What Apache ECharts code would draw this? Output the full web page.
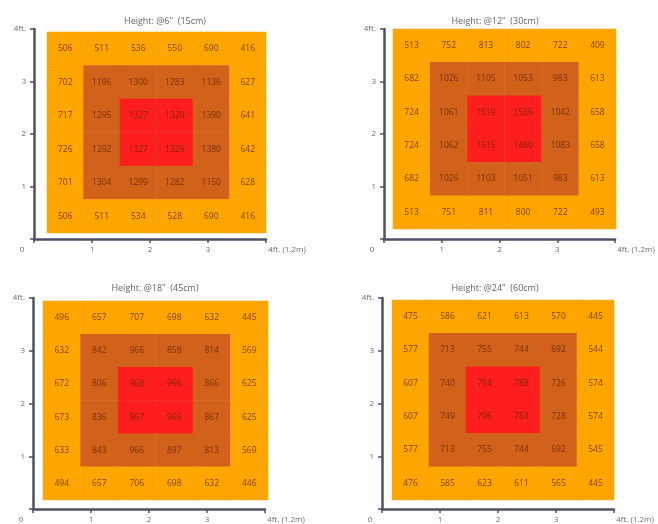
<!DOCTYPE html>
<html><head><meta charset="utf-8">
<script src="https://cdn.jsdelivr.net/npm/echarts@6/dist/echarts.min.js"></script>
<style>html,body{margin:0;padding:0;background:#fff}#c{width:658px;height:524px}</style>
</head><body><div id="c"></div>
<script>
var titles = ['Height: @6"  (15cm)', 'Height: @12"  (30cm)', 'Height: @18"  (45cm)', 'Height: @24"  (60cm)'];
var axisTicks = [0, 1, 2, 3, 4];
var xEndLabel = '4ft. (1.2m)';
var yEndLabel = '4ft.';
// rows listed top to bottom, 6 columns left to right
var panel6 = [
  [506, 511, 536, 550, 690, 416],
  [702, 1196, 1300, 1283, 1136, 627],
  [717, 1295, 1327, 1320, 1390, 641],
  [726, 1292, 1327, 1326, 1380, 642],
  [701, 1304, 1299, 1282, 1150, 628],
  [506, 511, 534, 528, 690, 416]
];
var panel12 = [
  [513, 752, 813, 802, 722, 409],
  [682, 1026, 1105, 1053, 983, 613],
  [724, 1061, 1519, 1536, 1042, 658],
  [724, 1062, 1515, 1480, 1083, 658],
  [682, 1026, 1103, 1051, 983, 613],
  [513, 751, 811, 800, 722, 493]
];
var panel18 = [
  [496, 657, 707, 698, 632, 445],
  [632, 842, 966, 858, 814, 569],
  [672, 806, 968, 966, 866, 625],
  [673, 836, 967, 966, 867, 625],
  [633, 843, 966, 897, 813, 569],
  [494, 657, 706, 698, 632, 446]
];
var panel24 = [
  [475, 586, 621, 613, 570, 445],
  [577, 713, 755, 744, 692, 544],
  [607, 740, 794, 788, 726, 574],
  [607, 749, 796, 784, 728, 574],
  [577, 713, 755, 744, 692, 545],
  [476, 585, 623, 611, 565, 445]
];
var panels = [panel6, panel12, panel18, panel24];
var cellCats = ['c0', 'c1', 'c2', 'c3', 'c4', 'c5'];

// layout (pixels)
var axisGrids = [
  {left: 34, top: 29, width: 232, height: 210},
  {left: 384, top: 29, width: 231, height: 210},
  {left: 33, top: 298, width: 232, height: 212},
  {left: 382, top: 298, width: 232, height: 212}
];
var heatGrids = [
  {left: 47, top: 32, width: 219, height: 201},
  {left: 393, top: 29, width: 223, height: 200},
  {left: 43, top: 301, width: 225, height: 199},
  {left: 392, top: 300, width: 222, height: 200}
];
var titlePos = [{x: 160, y: 12}, {x: 490, y: 12}, {x: 150, y: 279}, {x: 490, y: 279}];

var axisColor = '#4c5165';
var labelColor = '#6e6e6e';
var grids = [], xAxes = [], yAxes = [], series = [], titleArr = [];

for (var p = 0; p < 4; p++) {
  var ag = axisGrids[p], hg = heatGrids[p];
  grids.push({left: ag.left, top: ag.top, width: ag.width, height: ag.height, containLabel: false});
  grids.push({left: hg.left, top: hg.top, width: hg.width, height: hg.height, containLabel: false});
  var gA = p * 2, gH = p * 2 + 1;
  xAxes.push({
    type: 'value', gridIndex: gA, min: axisTicks[0], max: axisTicks[axisTicks.length - 1], interval: 1,
    axisLine: {show: true, onZero: false, lineStyle: {color: axisColor, width: 2.5}},
    axisTick: {show: true, length: 4, lineStyle: {color: axisColor, width: 1.5}},
    splitLine: {show: false},
    axisLabel: {
      color: labelColor, fontSize: 8, fontFamily: 'Open Sans', margin: 7,
      formatter: function (v) {
        if (v === 0) return '{z|0}';
        if (v === 4) return '{e|' + xEndLabel + '}';
        return '' + v;
      },
      rich: {
        z: {color: labelColor, fontSize: 8, padding: [0, 24, 0, 0]},
        e: {color: labelColor, fontSize: 8, padding: [0, 0, 0, 42]}
      }
    }
  });
  yAxes.push({
    type: 'value', gridIndex: gA, min: axisTicks[0], max: axisTicks[axisTicks.length - 1], interval: 1,
    axisLine: {show: true, onZero: false, lineStyle: {color: axisColor, width: 2.5}},
    axisTick: {show: true, length: 4, inside: false, lineStyle: {color: axisColor, width: 1.5}},
    splitLine: {show: false},
    axisLabel: {
      color: labelColor, fontSize: 8, fontFamily: 'Open Sans', margin: 8,
      formatter: function (v) {
        if (v === 0) return '';
        if (v === 4) return yEndLabel;
        return '' + v;
      }
    }
  });
  xAxes.push({type: 'category', gridIndex: gH, data: cellCats, show: false, axisLine: {show: false}, axisTick: {show: false}, axisLabel: {show: false}});
  yAxes.push({type: 'category', gridIndex: gH, data: cellCats, inverse: true, show: false, axisLine: {show: false}, axisTick: {show: false}, axisLabel: {show: false}});

  var rows = panels[p], data = [];
  for (var r = 0; r < rows.length; r++) {
    for (var c = 0; c < rows[r].length; c++) {
      var ring = Math.min(r, c, rows.length - 1 - r, rows[r].length - 1 - c);
      data.push([c, r, rows[r][c], ring]);
    }
  }
  series.push({
    type: 'heatmap', xAxisIndex: 2 * p + 1, yAxisIndex: 2 * p + 1, data: data,
    label: {show: true, fontSize: 8.5, fontFamily: 'Open Sans', color: 'rgba(95,40,0,0.8)', formatter: function (pp) { return pp.value[2]; }},
    itemStyle: {borderWidth: 0},
    emphasis: {disabled: true}
  });
  titleArr.push({text: titles[p], left: titlePos[p].x, top: titlePos[p].y, textAlign: 'center',
    textStyle: {fontSize: 9, fontWeight: 'normal', color: '#666', fontFamily: 'Open Sans'}});
}

var chart = echarts.init(document.getElementById('c'), null, {renderer: 'canvas'});
chart.setOption({
  animation: false,
  backgroundColor: '#fff',
  title: titleArr,
  grid: grids,
  xAxis: xAxes,
  yAxis: yAxes,
  visualMap: {
    type: 'piecewise', show: false, dimension: 3, seriesIndex: [0, 1, 2, 3],
    pieces: [
      {value: 0, color: '#FFA500'},
      {value: 1, color: '#D2611C'},
      {value: 2, color: '#FF1E1E'}
    ]
  },
  series: series
});
</script>
</body></html>
